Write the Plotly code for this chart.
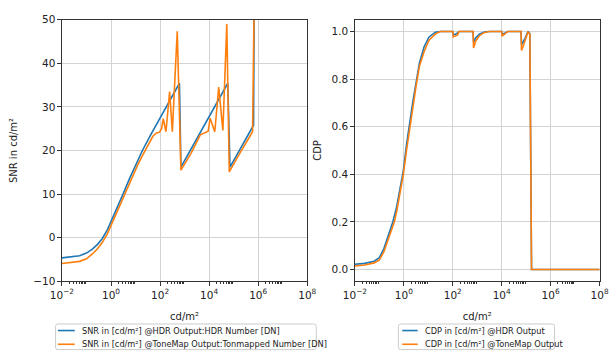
import numpy as np
import plotly.graph_objects as go

# ---------------- data ----------------
# luminance sample points are stored as log10(cd/m²)
snr_hdr_loglum = [-2.0, -1.6, -1.28, -1.0, -0.76, -0.55, -0.36, -0.15, 0.03, 0.25,
                  0.49, 0.75, 1.08, 1.28, 1.6, 2.0, 2.24, 2.5, 2.79, 2.85,
                  3.2, 3.6, 4.0, 4.4, 4.76, 4.85, 5.2, 5.5, 5.81, 5.85]
snr_hdr = [-4.6, -4.4, -4.1, -3.5, -2.6, -1.5, -0.2, 1.8, 4.0, 6.9,
           10.0, 13.5, 17.7, 20.0, 23.4, 27.5, 30.0, 32.6, 35.4, 16.2,
           19.7, 23.7, 27.7, 31.7, 35.4, 16.2, 19.7, 22.8, 25.8, 70.0]

snr_tm_loglum = [-2.0, -1.6, -1.28, -1.0, -0.76, -0.55, -0.36, -0.15, 0.03, 0.25,
                 0.49, 0.75, 1.08, 1.28, 1.5, 1.7, 1.85, 1.98, 2.06, 2.13,
                 2.24, 2.39, 2.5, 2.7, 2.85, 3.25, 3.64, 3.84, 3.96, 4.04,
                 4.23, 4.39, 4.56, 4.72, 4.82, 5.2, 5.5, 5.77, 5.87]
snr_tm = [-5.9, -5.7, -5.4, -4.8, -3.7, -2.5, -1.1, 0.9, 3.2, 6.1,
          9.2, 12.6, 16.6, 18.8, 21.2, 23.2, 24.0, 24.2, 25.0, 27.3,
          24.3, 33.5, 24.3, 47.3, 15.5, 19.2, 23.6, 24.0, 24.4, 27.4,
          24.3, 34.5, 24.6, 49.0, 15.1, 18.9, 21.7, 24.3, 70.0]

cdp_hdr_loglum = [-2.0, -1.6, -1.21, -1.0, -0.81, -0.55, -0.45, -0.29, -0.02, 0.11,
                  0.37, 0.64, 0.83, 1.03, 1.29, 1.5, 2.0, 2.02, 2.15, 2.25,
                  2.83, 2.85, 2.95, 3.1, 3.3, 3.5, 4.0, 4.02, 4.15, 4.25,
                  4.79, 4.81, 4.95, 5.08, 5.15, 5.22, 8.0]
cdp_hdr = [0.022, 0.026, 0.035, 0.05, 0.089, 0.17, 0.20, 0.265, 0.415, 0.525,
           0.706, 0.869, 0.936, 0.977, 0.997, 1.0, 1.0, 0.985, 0.99, 1.0,
           1.0, 0.955, 0.975, 0.99, 0.998, 1.0, 1.0, 0.987, 0.995, 1.0,
           1.0, 0.945, 0.97, 1.0, 0.99, 0.0, 0.0]

cdp_tm_loglum = [-2.0, -1.6, -1.21, -1.0, -0.81, -0.55, -0.39, -0.29, -0.02, 0.11,
                 0.37, 0.5, 0.64, 0.83, 1.03, 1.29, 1.5, 2.0, 2.02, 2.1,
                 2.2, 2.25, 2.83, 2.85, 2.94, 3.07, 3.27, 3.5, 4.0, 4.02,
                 4.15, 4.25, 4.79, 4.81, 4.92, 5.07, 5.15, 5.22, 8.0]
cdp_tm = [0.015, 0.019, 0.028, 0.04, 0.076, 0.15, 0.20, 0.245, 0.40, 0.50,
          0.686, 0.77, 0.855, 0.916, 0.963, 0.99, 1.0, 1.0, 0.977, 0.98,
          0.985, 1.0, 1.0, 0.93, 0.96, 0.98, 0.995, 1.0, 1.0, 0.98,
          0.99, 1.0, 1.0, 0.92, 0.95, 0.997, 0.99, 0.0, 0.0]

x_tick_exponents = [-2, 0, 2, 4, 6, 8]
x_tick_labels = ["10<sup>\u22122</sup>", "10<sup>0</sup>", "10<sup>2</sup>",
                 "10<sup>4</sup>", "10<sup>6</sup>", "10<sup>8</sup>"]

snr_names = ["SNR in [cd/m\u00b2] @HDR Output:HDR Number [DN]",
             "SNR in [cd/m\u00b2] @ToneMap Output:Tonmapped Number [DN]"]
cdp_names = ["CDP in [cd/m\u00b2] @HDR Output",
             "CDP in [cd/m\u00b2] @ToneMap Output"]

BLUE = "#1f77b4"
ORANGE = "#ff7f0e"
FONT = "DejaVu Sans"
TEXT = "#222222"
W, H = 616, 358

def lum(logs):
    return np.power(10.0, np.asarray(logs, dtype=float))

fig = go.Figure()
fig.add_trace(go.Scatter(x=lum(snr_hdr_loglum), y=snr_hdr, mode="lines", name=snr_names[0],
                         line=dict(color=BLUE, width=1.6), xaxis="x", yaxis="y", showlegend=False))
fig.add_trace(go.Scatter(x=lum(snr_tm_loglum), y=snr_tm, mode="lines", name=snr_names[1],
                         line=dict(color=ORANGE, width=1.6), xaxis="x", yaxis="y", showlegend=False))
fig.add_trace(go.Scatter(x=lum(cdp_hdr_loglum), y=cdp_hdr, mode="lines", name=cdp_names[0],
                         line=dict(color=BLUE, width=1.6), xaxis="x2", yaxis="y2", showlegend=False))
fig.add_trace(go.Scatter(x=lum(cdp_tm_loglum), y=cdp_tm, mode="lines", name=cdp_names[1],
                         line=dict(color=ORANGE, width=1.6), xaxis="x2", yaxis="y2", showlegend=False))

# minor ticks: 2..9 x 10^k in every labelled decade
minor_vals = [s * 10.0 ** e for e in x_tick_exponents[:-1] for s in range(2, 10)]

axis_common = dict(showline=True, mirror=True, linecolor="#333333", linewidth=1,
                   showgrid=True, gridcolor="#d3d3d3", gridwidth=1,
                   ticks="outside", ticklen=3.5, tickcolor="#333333", tickwidth=1,
                   zeroline=False, tickfont=dict(family=FONT, size=10.5, color=TEXT))

def xaxis_cfg(domain, anchor):
    return dict(axis_common, type="log", range=[-2, 8], domain=domain, anchor=anchor,
                tickmode="array", tickvals=[10.0 ** e for e in x_tick_exponents],
                ticktext=x_tick_labels,
                minor=dict(tickmode="array", tickvals=minor_vals, ticks="outside",
                           ticklen=2, tickcolor="#333333", showgrid=False),
                title=dict(text="cd/m\u00b2", font=dict(family=FONT, size=10, color=TEXT),
                           standoff=13))

ydom = [1 - 285 / H, 1 - 14 / H]
fig.update_layout(
    width=W, height=H,
    margin=dict(l=0, r=0, t=0, b=0),
    paper_bgcolor="white", plot_bgcolor="white",
    font=dict(family=FONT, size=10, color=TEXT),
    xaxis=xaxis_cfg([51.7 / W, 305.7 / W], "y"),
    yaxis=dict(axis_common, range=[-10, 50], dtick=10, domain=ydom, anchor="x",
               title=dict(text="SNR in cd/m\u00b2", font=dict(family=FONT, size=10, color=TEXT),
                          standoff=13)),
    xaxis2=xaxis_cfg([355 / W, 608.3 / W], "y2"),
    yaxis2=dict(axis_common, range=[-0.05, 1.05], dtick=0.2, tickformat=".1f", domain=ydom,
                anchor="x2",
                title=dict(text="CDP", font=dict(family=FONT, size=10, color=TEXT),
                           standoff=8)),
)

# boxed legends drawn beneath each panel
def px2paper(x, y):
    return x / W, 1 - y / H

def rounded_box(x0, y0, x1, y1, r=2.5):
    path = (f"M {x0 + r},{y0} L {x1 - r},{y0} Q {x1},{y0} {x1},{y0 + r} "
            f"L {x1},{y1 - r} Q {x1},{y1} {x1 - r},{y1} L {x0 + r},{y1} "
            f"Q {x0},{y1} {x0},{y1 - r} L {x0},{y0 + r} Q {x0},{y0} {x0 + r},{y0} Z")
    out = []
    for tok in path.split(" "):
        if "," in tok:
            a, b = tok.split(",")
            px, py = px2paper(float(a), float(b))
            out.append(f"{px:.5f},{py:.5f}")
        else:
            out.append(tok)
    return " ".join(out)

def add_legend(box, line_x, text_x, rows, names, colors):
    fig.add_shape(type="path", path=rounded_box(*box), xref="paper", yref="paper",
                  line=dict(color="#cccccc", width=1), fillcolor="white", layer="above")
    for ry, name, col in zip(rows, names, colors):
        xa, ya = px2paper(line_x[0], ry)
        xb, _ = px2paper(line_x[1], ry)
        fig.add_shape(type="line", x0=xa, x1=xb, y0=ya, y1=ya, xref="paper", yref="paper",
                      line=dict(color=col, width=1.6), layer="above")
        tx, ty = px2paper(text_x, ry)
        fig.add_annotation(x=tx, y=ty, xref="paper", yref="paper", text=name, showarrow=False,
                           xanchor="left", yanchor="middle",
                           font=dict(family=FONT, size=8.2, color=TEXT))

add_legend((45, 329, 315, 355.5), (47.5, 65), 70, (335.8, 350), snr_names, (BLUE, ORANGE))
add_legend((400, 329, 561.7, 355.5), (404, 420), 426, (335.8, 350), cdp_names, (BLUE, ORANGE))

fig.write_html("out.html")
